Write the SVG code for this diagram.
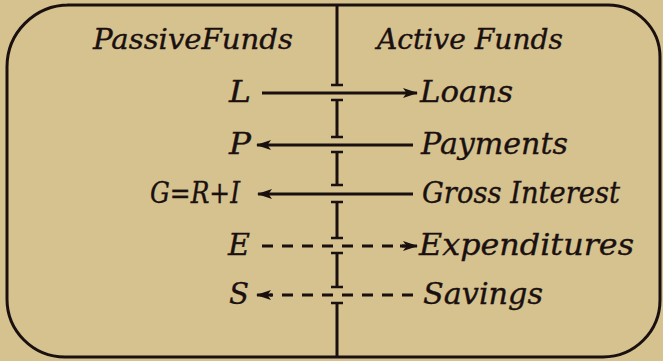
<svg xmlns="http://www.w3.org/2000/svg" width="663" height="361" viewBox="0 0 663 361">
<defs>
<marker id="ah" viewBox="0 0 15 11" refX="14" refY="5.5" markerWidth="15" markerHeight="11" markerUnits="userSpaceOnUse" orient="auto">
<path d="M0,0.5 L15,5.5 L0,10.5 L3.5,5.5 Z" fill="#1a1010"/>
</marker>
<style>
.t{font-family:"DejaVu Serif",serif;font-style:italic;fill:#1a1010;stroke:#1a1010;stroke-width:0.35}
.h{font-size:27px}
.r{font-size:29px}
.ln{stroke:#1a1010;stroke-width:3;fill:none}
.d{stroke-dasharray:11 9}
.v{stroke:#1a1010;stroke-width:3;fill:none}
.b{stroke:#1a1010;stroke-width:2.5}
</style>
</defs>
<rect width="663" height="361" fill="#d5c28f"/>
<g id="frame">
<path d="M67,5 H608 A52,52 0 0 1 660,57 V300 A57,57 0 0 1 603,357 H65 A58,58 0 0 1 7,299 V67 A62,62 0 0 1 69,5 Z" fill="none" stroke="#1a1010" stroke-width="3"/>
</g>
<g id="divider">
<path class="v" d="M337,5 V85 M337,100 V137 M337,152 V185 M337,202 V238 M337,253 V287 M337,303 V357"/>
<path class="b" d="M331,85 H343 M331,100 H343 M331,137 H343 M331,152 H343 M331,185 H343 M331,202 H343 M331,238 H343 M331,253 H343 M331,287 H343 M331,303 H343"/>
</g>
<g id="headers">
<text class="t h" x="93" y="49" textLength="200" lengthAdjust="spacingAndGlyphs">PassiveFunds</text>
<text class="t h" x="377" y="49" textLength="186" lengthAdjust="spacingAndGlyphs">Active Funds</text>
</g>
<g id="connectors">
<line class="ln" x1="262" y1="93" x2="417" y2="93" marker-end="url(#ah)"/>
<line class="ln" x1="413" y1="145" x2="257" y2="145" marker-end="url(#ah)"/>
<line class="ln" x1="413" y1="194" x2="258" y2="194" marker-end="url(#ah)"/>
<line class="ln d" x1="262" y1="246" x2="405" y2="246"/>
<line class="ln" x1="400" y1="246" x2="417" y2="246" marker-end="url(#ah)"/>
<line class="ln d" x1="413" y1="295" x2="270" y2="295"/>
<line class="ln" x1="272" y1="295" x2="257" y2="295" marker-end="url(#ah)"/>
</g>
<g id="row-L">
<text class="t r" x="229" y="102" textLength="22" lengthAdjust="spacingAndGlyphs">L</text>
<text class="t r" x="420" y="102" textLength="93" lengthAdjust="spacingAndGlyphs">Loans</text>
</g>
<g id="row-P">
<text class="t r" x="229" y="154" textLength="22" lengthAdjust="spacingAndGlyphs">P</text>
<text class="t r" x="421" y="154" textLength="147" lengthAdjust="spacingAndGlyphs">Payments</text>
</g>
<g id="row-G">
<text class="t r" x="150" y="203" textLength="90" lengthAdjust="spacingAndGlyphs">G=R+I</text>
<text class="t r" x="422" y="203" textLength="198" lengthAdjust="spacingAndGlyphs">Gross Interest</text>
</g>
<g id="row-E">
<text class="t r" x="228" y="255" textLength="22" lengthAdjust="spacingAndGlyphs">E</text>
<text class="t r" x="419" y="255" textLength="215" lengthAdjust="spacingAndGlyphs">Expenditures</text>
</g>
<g id="row-S">
<text class="t r" x="229" y="304" textLength="20" lengthAdjust="spacingAndGlyphs">S</text>
<text class="t r" x="423" y="304" textLength="120" lengthAdjust="spacingAndGlyphs">Savings</text>
</g>
</svg>
